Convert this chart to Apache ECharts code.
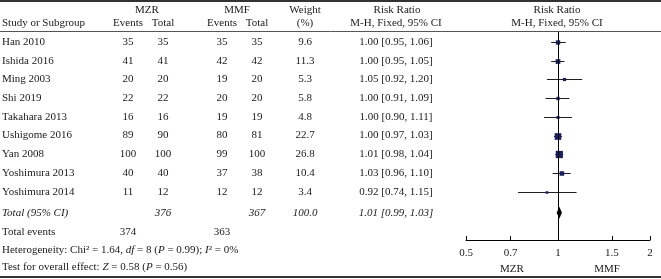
<!DOCTYPE html>
<html>
<head>
<meta charset="utf-8">
<script src="https://cdn.jsdelivr.net/npm/echarts@6/dist/echarts.min.js"></script>
<style>
  html, body { margin: 0; padding: 0; background: #fff; }
  #main { width: 661px; height: 279px; }
</style>
</head>
<body>
<div id="main"></div>
<script>
// study rows
var studies = ['Han 2010', 'Ishida 2016', 'Ming 2003', 'Shi 2019', 'Takahara 2013', 'Ushigome 2016', 'Yan 2008', 'Yoshimura 2013', 'Yoshimura 2014'];
var mzrEvents = [35, 41, 20, 22, 16, 89, 100, 40, 11];
var mzrTotal = [35, 41, 20, 22, 16, 90, 100, 40, 12];
var mmfEvents = [35, 42, 19, 20, 19, 80, 99, 37, 12];
var mmfTotal = [35, 42, 20, 20, 19, 81, 100, 38, 12];
var weights = [9.6, 11.3, 5.3, 5.8, 4.8, 22.7, 26.8, 10.4, 3.4];
var rr = [1.00, 1.00, 1.05, 1.00, 1.00, 1.00, 1.01, 1.03, 0.92];
var ciLow = [0.95, 0.95, 0.92, 0.91, 0.90, 0.97, 0.98, 0.96, 0.74];
var ciHigh = [1.06, 1.05, 1.20, 1.09, 1.11, 1.03, 1.04, 1.10, 1.15];

// pooled result
var totalMzr = 376, totalMmf = 367, totalWeight = 100.0;
var totalEventsMzr = 374, totalEventsMmf = 363;
var pooled = [1.01, 0.99, 1.03]; // rr, low, high

var xTicks = [0.5, 0.7, 1, 1.5, 2];

var FONT = '11px "Liberation Serif"';
var IFONT = 'italic 11px "Liberation Serif"';
var TXT = '#1a1a1a';

var dom = document.getElementById('main');
var myChart = echarts.init(dom);

var studyData = studies.map(function (s, i) {
    return [i, rr[i], ciLow[i], ciHigh[i], weights[i]];
});
var totalRow = 9.12;

myChart.setOption({
    animation: false,
    grid: {
        left: 466,
        right: 11,
        top: 32,
        bottom: 39
    },
    xAxis: {
        type: 'log',
        logBase: 2,
        min: 0.5,
        max: 2,
        axisLine: { show: true, onZero: false, lineStyle: { color: '#000', width: 1 } },
        axisTick: { show: true, inside: true, length: 4, customValues: xTicks, lineStyle: { color: '#000' } },
        minorTick: { show: false },
        splitLine: { show: false },
        axisLabel: {
            customValues: xTicks,
            margin: 8,
            color: TXT,
            fontFamily: 'Liberation Serif',
            fontSize: 11,
            formatter: function (v) { return String(+(+v).toFixed(2)); }
        }
    },
    yAxis: {
        type: 'value',
        inverse: true,
        min: -0.534,
        max: 10.58,
        show: false
    },
    series: [{
        type: 'custom',
        name: 'studies',
        encode: { x: [1, 2, 3], y: 0 },
        data: studyData,
        renderItem: function (params, api) {
            var y = api.value(0);
            var c = api.coord([api.value(1), y]);
            var l = api.coord([api.value(2), y]);
            var h = api.coord([api.value(3), y]);
            var s = 1.4 * Math.sqrt(api.value(4));
            var ly = Math.round(c[1]) + 0.5;
            return {
                type: 'group',
                children: [{
                    type: 'line',
                    shape: { x1: l[0], y1: ly, x2: h[0], y2: ly },
                    style: { stroke: '#1f1f1f', lineWidth: 1 }
                }, {
                    type: 'rect',
                    shape: { x: c[0] - s / 2, y: ly - s / 2, width: s, height: s },
                    style: { fill: '#1b1f5e' }
                }]
            };
        },
        markLine: {
            silent: true,
            symbol: 'none',
            label: { show: false },
            lineStyle: { color: '#000', width: 1, type: 'solid' },
            data: [{ xAxis: 1 }]
        },
        z: 3
    }, {
        type: 'custom',
        name: 'total',
        encode: { x: [1, 2, 3], y: 0 },
        data: [[totalRow, pooled[0], pooled[1], pooled[2]]],
        renderItem: function (params, api) {
            var y = api.value(0);
            var c = api.coord([api.value(1), y]);
            var l = api.coord([api.value(2), y]);
            var h = api.coord([api.value(3), y]);
            return {
                type: 'polygon',
                shape: { points: [[l[0], c[1]], [c[0], c[1] - 6], [h[0], c[1]], [c[0], c[1] + 6]] },
                style: { fill: '#000' }
            };
        },
        z: 4
    }]
});

// table text
function rowY(v) {
    return myChart.convertToPixel({ gridIndex: 0 }, [1, v])[1];
}
function txt(str, x, y, align, font, rich) {
    var st = { text: str, font: font || FONT, fill: TXT, align: align || 'center', verticalAlign: 'middle' };
    if (rich) st.rich = rich;
    return { type: 'text', x: x, y: y, style: st, silent: true };
}
function hline(y, w, color) {
    return { type: 'line', shape: { x1: 0, y1: y, x2: 661, y2: y }, style: { stroke: color, lineWidth: w }, silent: true };
}

var colX = { study: 2, mzrE: 128, mzrT: 163, mmfE: 222, mmfT: 257, weight: 305, rr: 396, plot: 557 };
var g = [];
g.push(hline(1, 2, '#333'));
g.push(hline(31.5, 1, '#555'));
g.push(hline(277, 2, '#333'));

// header
g.push(txt('MZR', 147, 10));
g.push(txt('MMF', 237, 10));
g.push(txt('Weight', colX.weight, 10));
g.push(txt('Risk Ratio', 397, 10));
g.push(txt('Risk Ratio', colX.plot, 10));
g.push(txt('Study or Subgroup', colX.study, 23, 'left'));
g.push(txt('Events', colX.mzrE, 23));
g.push(txt('Total', colX.mzrT, 23));
g.push(txt('Events', colX.mmfE, 23));
g.push(txt('Total', colX.mmfT, 23));
g.push(txt('(%)', colX.weight, 23));
g.push(txt('M-H, Fixed, 95% CI', colX.rr, 23));
g.push(txt('M-H, Fixed, 95% CI', colX.plot, 23));

studies.forEach(function (s, i) {
    var y = rowY(i);
    g.push(txt(s, colX.study, y, 'left'));
    g.push(txt(String(mzrEvents[i]), colX.mzrE, y));
    g.push(txt(String(mzrTotal[i]), colX.mzrT, y));
    g.push(txt(String(mmfEvents[i]), colX.mmfE, y));
    g.push(txt(String(mmfTotal[i]), colX.mmfT, y));
    g.push(txt(weights[i].toFixed(1), colX.weight, y));
    g.push(txt(rr[i].toFixed(2) + ' [' + ciLow[i].toFixed(2) + ', ' + ciHigh[i].toFixed(2) + ']', colX.rr, y));
});

var ty = rowY(totalRow);
g.push(txt('Total (95% CI)', colX.study, ty, 'left', IFONT));
g.push(txt(String(totalMzr), colX.mzrT, ty, 'center', IFONT));
g.push(txt(String(totalMmf), colX.mmfT, ty, 'center', IFONT));
g.push(txt(totalWeight.toFixed(1), colX.weight, ty, 'center', IFONT));
g.push(txt(pooled[0].toFixed(2) + ' [' + pooled[1].toFixed(2) + ', ' + pooled[2].toFixed(2) + ']', colX.rr, ty, 'center', IFONT));

g.push(txt('Total events', colX.study, 232, 'left'));
g.push(txt(String(totalEventsMzr), colX.mzrE, 232));
g.push(txt(String(totalEventsMmf), colX.mmfE, 232));

var richI = { i: { font: IFONT, fill: TXT } };
g.push(txt('Heterogeneity: Chi\u00b2 = 1.64, {i|df} = 8 ({i|P} = 0.99); {i|I}\u00b2 = 0%', colX.study, 250, 'left', FONT, richI));
g.push(txt('Test for overall effect: {i|Z} = 0.58 ({i|P} = 0.56)', colX.study, 267.5, 'left', FONT, richI));

g.push(txt('MZR', 512, 269));
g.push(txt('MMF', 607, 269));

myChart.setOption({ graphic: g });

window.addEventListener('resize', function () {
    myChart.resize();
});
</script>
</body>
</html>
